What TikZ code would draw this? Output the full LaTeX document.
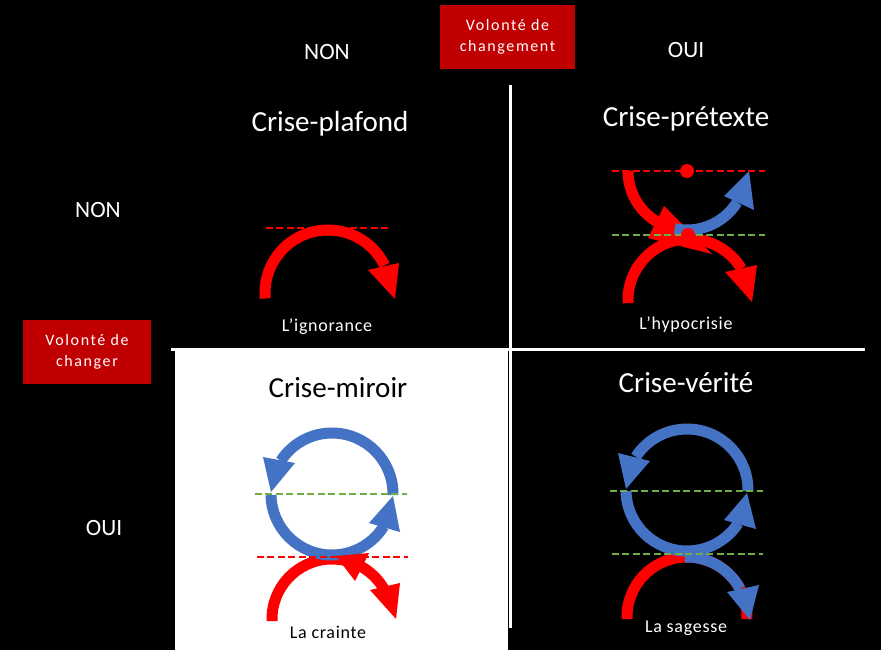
\documentclass[tikz,border=0pt]{standalone}
\usepackage{fontspec}
\setmainfont{Carlito}
\newfontfamily\boxfont[LetterSpace=10]{Carlito}
\newfontfamily\capfont[LetterSpace=4]{Carlito}
\usetikzlibrary{calc}
\definecolor{boxred}{HTML}{C00000}
\definecolor{arblue}{HTML}{4472C4}
\definecolor{argreen}{HTML}{70AD47}
\definecolor{arred}{HTML}{FF0000}
\begin{document}
\begin{tikzpicture}[x=0.75pt,y=0.75pt,
  band/.style={line width=8.25pt},
  dashline/.style={line width=1.9pt, dash pattern=on 5.25pt off 2.6pt},
  sepline/.style={white, line width=2.25pt},
  redbox/.style={fill=boxred, text=white, align=center, inner sep=0pt,
    minimum height=48pt,
    font=\boxfont\fontsize{12}{15.75}\selectfont},
  axislabel/.style={text=white, font=\fontsize{17.5}{21}\selectfont},
  title/.style={font=\fontsize{21.8}{26}\selectfont},
  caption/.style={font=\capfont\fontsize{13.5}{16}\selectfont}]
\fill[black] (0,0) rectangle (881,-650);
\useasboundingbox (0,0) rectangle (881,-650);
% quadrant background and separators
\fill[white] (175,-350) rectangle (508,-650);
\draw[sepline] (171,-349.5) -- (865,-349.5);
\draw[sepline] (510.5,-85) -- (510.5,-628);
% header boxes and axis labels
\node[redbox, minimum width=101.25pt] (boxtop) at (507.5,-37) {Volonté de\\changement};
\node[redbox, minimum width=96pt] (boxleft) at (87,-352) {Volonté de\\changer};
\node[axislabel] (nontop) at (327,-52) {NON};
\node[axislabel] (ouitop) at (686,-50) {OUI};
\node[axislabel] (nonleft) at (98,-210) {NON};
\node[axislabel] (ouileft) at (104,-528) {OUI};
% titles
\node[title, text=white] (t1) at (330,-124) {Crise-plafond};
\node[title, text=white] (t2) at (686,-119) {Crise-prétexte};
\node[title, text=black] (t3) at (338,-388) {Crise-miroir};
\node[title, text=white] (t4) at (686,-383) {Crise-vérité};
% captions
\node[caption, text=white] (c1) at (327,-327) {L’ignorance};
\node[caption, text=white] (c2) at (686,-325) {L’hypocrisie};
\node[caption, text=black] (c3) at (328,-632) {La crainte};
\node[caption, text=white] (c4) at (686,-628) {La sagesse};
% ---- Crise-plafond
\coordinate (cP) at (328,-293);
\draw[band, arred] ($(cP)+(185:63)$) arc[start angle=185, end angle=26, radius=63];
\fill[arred] (368,-270) -- (399,-263) -- (395,-299) -- cycle;
\draw[dashline, arred] (266,-228) -- (390,-228);
% ---- Crise-pretexte
\coordinate (cQ) at (689,-300);
\coordinate (cT) at (687,-171);
\draw[band, arred] ($(cQ)+(183:61)$) arc[start angle=183, end angle=31, radius=61];
\fill[arred] (725,-272) -- (757,-265) -- (752,-302) -- cycle;
\draw[band, arred] ($(cT)+(180:59)$) arc[start angle=180, end angle=240, radius=59];
\fill[arred] (664,-206) -- (648,-238) -- (712,-254) -- cycle;
\draw[band, arblue] ($(cT)+(258:59)$) arc[start angle=258, end angle=328, radius=59];
\fill[arblue] (724,-196) -- (754,-210) -- (749,-171) -- cycle;
\draw[dashline, arred] (612,-171) -- (765,-171);
\draw[dashline, argreen] (612,-235) -- (765,-235);
\fill[arred] (687,-171) circle[radius=7];
\fill[arred] (688,-235) circle[radius=7];
% ---- Crise-miroir
\coordinate (cR) at (332,-619);
\coordinate (cM) at (332,-494);
\draw[band, arred] ($(cR)+(182:60)$) arc[start angle=182, end angle=30, radius=60];
\fill[arred] (370,-590) -- (400,-583) -- (396,-619) -- cycle;
\draw[band, arblue] ($(cM)+(-1:61)$) arc[start angle=-1, end angle=147, radius=61];
\fill[arblue] (263,-457) -- (295,-463) -- (271,-492) -- cycle;
\draw[band, arblue] ($(cM)+(181:61)$) arc[start angle=181, end angle=328, radius=61];
\fill[arblue] (369,-523) -- (400,-532) -- (393,-496) -- cycle;
\fill[arred] (355,-581) -- (369,-553) -- (336,-556) -- cycle;
\draw[dashline, argreen] (255,-494) -- (407,-494);
\draw[dashline, arred] (257,-557) -- (408,-557);
% ---- Crise-verite
\coordinate (cW) at (687,-617);
\coordinate (cV) at (687,-490);
\draw[band, arred] ($(cW)+(182:60)$) arc[start angle=182, end angle=-2, radius=60];
\draw[band, arblue] ($(cV)+(-1:61)$) arc[start angle=-1, end angle=147, radius=61];
\fill[arblue] (618,-453) -- (650,-461) -- (626,-489) -- cycle;
\draw[band, arblue] ($(cV)+(181:61)$) arc[start angle=181, end angle=327, radius=61];
\fill[arblue] (724,-520) -- (756,-529) -- (747,-493) -- cycle;
\draw[band, arblue] ($(cW)+(92:60)$) arc[start angle=92, end angle=28, radius=60];
\fill[arblue] (727,-592) -- (759,-585) -- (750,-620) -- cycle;
\draw[dashline, argreen] (610,-491) -- (763,-491);
\draw[dashline, argreen] (612,-554) -- (763,-554);
\end{tikzpicture}
\end{document}
